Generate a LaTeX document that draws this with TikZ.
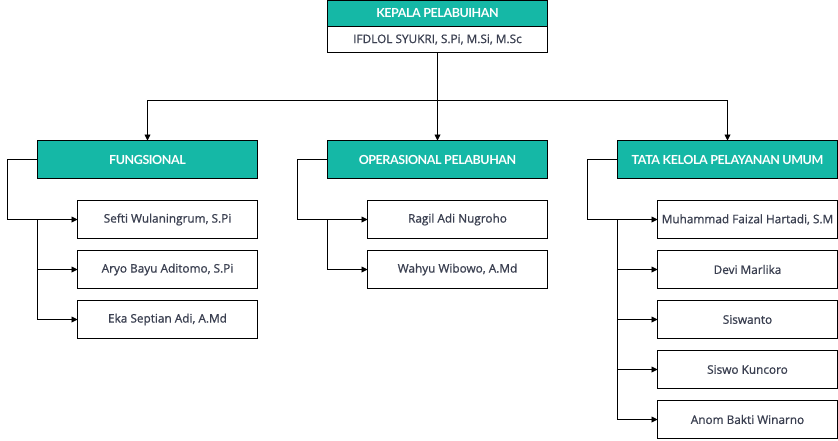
\documentclass[tikz,border=0pt]{standalone}
\usepackage{fontspec}
\setmainfont{Open Sans}
\newfontfamily\headfont[LetterSpace=-3.5]{Lato}
\newfontfamily\namefont[FakeBold=0.9]{Open Sans}
\usepackage{tikz}
\usetikzlibrary{positioning}
\usetikzlibrary{arrows.meta}
\definecolor{tealhead}{RGB}{21,184,166}
\definecolor{nametext}{RGB}{58,63,80}
\tikzset{
node distance = 12pt and 70pt,
   head/.style = {%
    shape=rectangle,
    draw=black,
    line width=0.9pt,
    outer sep=0pt,
    fill=tealhead,
    text=white,
    minimum width=220pt,
    align=center,
    font=\headfont\bfseries\fontsize{12.5}{12.5}\selectfont},
   box/.style = {%
    shape=rectangle,
    draw=black,
    line width=0.9pt,
    outer sep=0pt,
    fill=white,
    text=nametext,
    minimum width=180pt,
    minimum height=38pt,
    align=center,
    font=\namefont\fontsize{11.8}{11.8}\selectfont},
 arrow/.style = {%
    draw=black,
    line width=0.9pt,
    -{Triangle[length=6pt,width=6pt]}},
    }

\begin{document}
\begin{tikzpicture}[x=1pt,y=-1pt]
    \useasboundingbox (0,0) rectangle (838,440);
    % kepala
    \node[head, minimum height=26pt] (kepala) at (437.5,13.5) {KEPALA PELABUIHAN};
    \node[box, minimum width=220pt, minimum height=26pt, anchor=north] (ifdlol) at (kepala.south) {IFDLOL SYUKRI, S.Pi, M.Si, M.Sc};
    % bagian
    \node[head, minimum height=38pt] (fung) at (147.5,159.5) {FUNGSIONAL};
    \node[head, minimum height=38pt, right=of fung] (oper) {OPERASIONAL PELABUHAN};
    \node[head, minimum height=38pt, right=of oper] (tata) {TATA KELOLA PELAYANAN UMUM};
    % fungsional
    \node[box, below left=22pt and 0pt of fung.south east] (fung1) {Sefti Wulaningrum, S.Pi};
    \node[box, below=of fung1] (fung2) {Aryo Bayu Aditomo, S.Pi};
    \node[box, below=of fung2] (fung3) {Eka Septian Adi, A.Md};
    % operasional
    \node[box, below left=22pt and 0pt of oper.south east] (oper1) {Ragil Adi Nugroho};
    \node[box, below=of oper1] (oper2) {Wahyu Wibowo, A.Md};
    % tata kelola
    \node[box, below left=22pt and 0pt of tata.south east] (tata1) {Muhammad Faizal Hartadi, S.M};
    \node[box, below=of tata1] (tata2) {Devi Marlika};
    \node[box, below=of tata2] (tata3) {Siswanto};
    \node[box, below=of tata3] (tata4) {Siswo Kuncoro};
    \node[box, below=of tata4] (tata5) {Anom Bakti Winarno};

    % garis dari kepala
    \draw[arrow] (ifdlol.south) -- (oper.north);
    \draw[arrow] (ifdlol.south) -- ++(0,48) -| (fung.north);
    \draw[arrow] (ifdlol.south) -- ++(0,48) -| (tata.north);

    % garis ke anggota
    \foreach \grp in {fung,oper,tata}{
        \draw[arrow] (\grp.west) -- ++(-30,0) |- (\grp1.west);
    }
    \foreach \m in {2,3}{
        \draw[arrow] (fung.west |- fung1.west) |- (fung\m.west);
    }
    \draw[arrow] (oper.west |- oper1.west) |- (oper2.west);
    \foreach \m in {2,...,5}{
        \draw[arrow] (tata.west |- tata1.west) |- (tata\m.west);
    }
\end{tikzpicture}
\end{document}
